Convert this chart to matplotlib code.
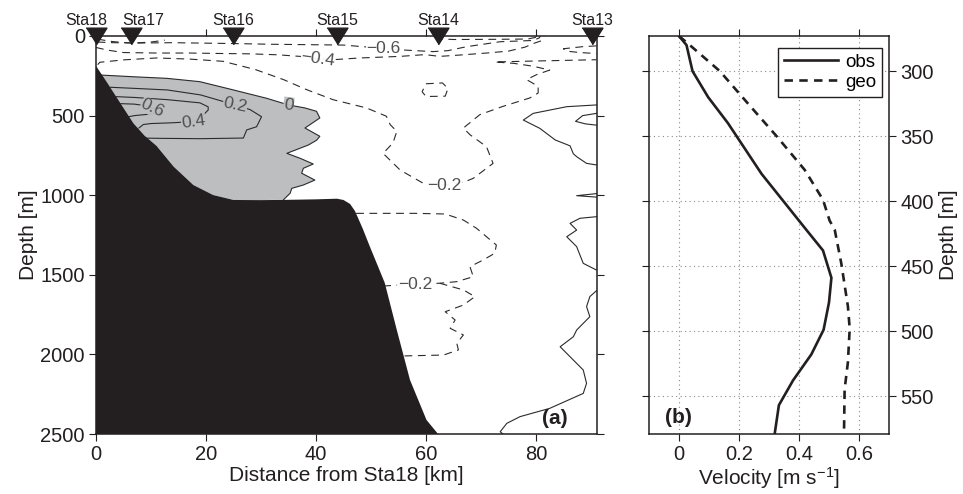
import matplotlib
matplotlib.use("Agg")
import matplotlib.pyplot as plt

plt.rcParams['font.family'] = ['Liberation Sans', 'DejaVu Sans']
plt.rcParams['mathtext.fontset'] = 'custom'
plt.rcParams['mathtext.rm'] = 'Liberation Sans'
plt.rcParams['mathtext.it'] = 'Liberation Sans:italic'

# ---------------- data: panel (a) ----------------
station_names = ["Sta18", "Sta17", "Sta16", "Sta15", "Sta14", "Sta13"]
station_dist = [0.0, 6.4, 25.0, 43.8, 62.2, 90.2]

bathy_dist = [0.0, 0.1, 2.5, 4.4, 6.8, 8.8, 11.0, 14.1, 17.7, 21.3, 25.0, 30.0, 35.0,
              40.0, 43.8, 45.0, 46.2, 47.1, 48.5, 49.8, 52.5, 54.7, 57.1, 60.1, 62.2]
bathy_depth = [193, 193, 318, 420, 548, 625, 690, 820, 936, 999, 1030, 1031, 1029,
               1026, 1022, 1030, 1055, 1100, 1210, 1323, 1550, 1847, 2161, 2412, 2500]

# 0 m/s contour bounding the shaded (positive) core
c00_dist = [0.7, 6.8, 12.9, 18.9, 25.0, 31.0, 35.0, 38.0, 40.1, 40.7, 38.0, 40.7, 40.1,
            38.6, 34.7, 37.1, 39.5, 37.7, 37.4, 39.8, 37.7, 35.6, 35.3, 34.1]
c00_depth = [245, 256, 266, 287, 339, 391, 433, 452, 473, 515, 578, 630, 655,
             685, 737, 768, 804, 831, 862, 905, 936, 957, 988, 1028]

c02_dist = [2.6, 7.0, 13.0, 19.0, 23.0, 25.3, 28.0, 30.1, 29.2, 27.4, 26.8, 19.0, 12.0, 8.0]
c02_depth = [322, 329, 339, 370, 410, 433, 462, 507, 570, 590, 641, 645, 643, 641]

c04_dist = [3.7, 7.0, 13.0, 18.9, 20.4, 20.4, 19.5, 18.6, 17.7, 14.0, 10.0, 8.6, 7.8]
c04_depth = [381, 386, 400, 420, 445, 465, 496, 522, 537, 545, 550, 556, 578]

c06_dist = [4.5, 7.0, 9.0, 10.3, 11.5, 11.8, 10.0, 7.0, 5.8]
c06_depth = [425, 428, 438, 453, 468, 480, 490, 500, 508]

# positive contours near Sta13 (0 m/s, solid)
p0a_dist = [91.0, 85.6, 79.5, 77.7, 80.7, 83.5, 86.2, 86.8, 87.4, 89.2, 91.0]
p0a_depth = [433, 444, 486, 528, 580, 653, 690, 740, 758, 800, 810]
p0b_dist = [91.0, 88.5, 87.2, 89.0, 91.0]
p0b_depth = [486, 500, 536, 552, 560]
p0c_dist = [91.0, 87.4, 91.0]
p0c_depth = [990, 1003, 1012]
p0d_dist = [91.0, 88.0, 86.2, 87.4, 85.6, 87.4, 88.0, 88.6, 91.0]
p0d_depth = [1135, 1145, 1177, 1219, 1261, 1323, 1376, 1428, 1470]
p0e_dist = [91.0, 89.8, 89.2, 89.8, 87.4, 86.8, 84.4, 86.5, 88.6, 89.2, 88.6, 82.5,
            77.1, 74.7, 73.5, 74.0]
p0e_depth = [1600, 1637, 1700, 1763, 1847, 1889, 1952, 2025, 2098, 2182, 2245, 2339,
             2391, 2433, 2486, 2500]

# negative contours (dashed)
n02a_dist = [0.3, 0.7, 5.0, 11.0, 17.0, 23.1, 29.0, 34.1, 38.3, 43.1, 49.2, 52.8, 53.5,
             54.7, 54.0, 52.2, 55.3, 59.5, 63.4, 67.1, 68.6, 72.2, 71.0, 68.0, 66.8,
             69.8, 74.0, 78.9, 80.4, 80.4, 78.3, 80.1, 82.5, 79.5, 76.0, 72.5, 80.0, 91.0]
n02a_depth = [180, 165, 150, 138, 145, 159, 211, 274, 337, 400, 452, 504, 557,
              599, 672, 737, 842, 925, 936, 915, 894, 800, 695, 620, 578,
              494, 442, 389, 358, 316, 274, 243, 214, 190, 172, 163, 157, 149]
n02b_dist = [47.3, 52.0, 58.0, 63.5, 66.8, 69.2, 72.8, 72.5, 70.4, 68.0, 68.6, 65.6,
             62.5, 58.0, 52.5]
n02b_depth = [1114, 1114, 1114, 1118, 1156, 1208, 1313, 1365, 1407, 1449, 1512, 1543,
              1553, 1558, 1570]
n02c_dist = [62.5, 66.8, 68.9, 66.8, 63.5, 65.3, 64.4, 66.8, 65.6, 65.9, 63.2, 55.5]
n02c_depth = [1553, 1595, 1637, 1690, 1732, 1784, 1836, 1878, 1930, 1972, 2004, 2010]
n02d_dist = [60.0, 63.0, 64.0, 63.5, 60.0, 59.3, 60.0]
n02d_depth = [300, 295, 330, 378, 380, 350, 300]

n04_dist = [0.0, 2.0, 5.0, 11.0, 17.0, 23.0, 28.0, 33.0, 37.1, 40.4, 43.5, 48.0, 55.3,
            59.8, 62.5, 66.0, 71.0, 75.0, 78.0, 79.8, 81.0, 81.5]
n04_depth = [72, 88, 104, 107, 107, 110, 112, 118, 128, 143, 148, 138, 128,
             117, 128, 120, 107, 95, 70, 44, 30, 0]
n04b_dist = [91.0, 88.5, 85.0, 85.5, 88.0, 91.0]
n04b_depth = [62, 67, 80, 95, 104, 110]

n06_dist = [0.3, 3.0, 8.0, 14.0, 20.0, 26.0, 32.0, 40.0, 45.0, 48.5, 52.2, 55.9, 61.3,
            64.0, 67.4, 73.5, 79.5, 80.6, 80.8]
n06_depth = [38, 42, 44, 42, 45, 48, 52, 55, 57, 67, 77, 88, 98,
             92, 67, 36, 28, 12, 0]
n08_dist = [61.8, 62.5, 65.0, 72.0, 78.5, 80.0]
n08_depth = [2, 18, 22, 21, 19, 8]
n08b_dist = [0.3, 3.0, 6.5, 10.0, 12.5]
n08b_depth = [20, 35, 45, 38, 26]

# contour labels: text, distance, depth, rotation
clab_text = ["0.6", "0.4", "0.2", "0", "\u22120.4", "\u22120.6", "\u22120.2", "\u22120.2"]
clab_dist = [10.3, 17.7, 25.3, 35.0, 40.4, 52.2, 63.4, 58.0]
clab_depth = [453, 537, 433, 433, 143, 77, 936, 1558]
clab_rot = [-25, 8, -12, -8, -8, 0, 0, 0]

# ---------------- data: panel (b) ----------------
obs_vel = [0.0, 0.025, 0.045, 0.097, 0.163, 0.275, 0.424, 0.48, 0.508, 0.50, 0.482,
           0.441, 0.38, 0.333, 0.319]
obs_depth = [273, 280, 300, 320, 340, 379, 422, 438, 459, 478, 499, 518, 538, 557, 579]
geo_vel = [0.0, 0.041, 0.136, 0.23, 0.325, 0.419, 0.48, 0.502, 0.519, 0.541, 0.563,
           0.569, 0.563, 0.552, 0.55]
geo_depth = [273, 281, 300, 325, 350, 376, 399, 415, 422, 448, 481, 498, 524, 545, 579]

# ---------------- styling ----------------
BLACK = '#231f20'
GRAY = '#bcbec0'
LINE = '#2b2b2b'
TICK_FS = 14.5
LAB_FS = 15

fig = plt.figure(figsize=(9.63, 4.94), dpi=100)
axL = fig.add_axes([96 / 963, 60 / 494, 501 / 963, 398 / 494])
axR = fig.add_axes([649 / 963, 60 / 494, 240 / 963, 398 / 494])

# shaded positive core: 0 contour closed back along the bathymetry
poly_x = list(c00_dist)
poly_y = list(c00_depth)
back = [(d, z) for d, z in zip(bathy_dist, bathy_depth)
        if z > c00_depth[0] and d < c00_dist[-1]]
for d, z in reversed(back):
    poly_x.append(d)
    poly_y.append(z)
axL.fill(poly_x, poly_y, color=GRAY, lw=0, zorder=1)

solid = [(c00_dist, c00_depth), (c02_dist, c02_depth), (c04_dist, c04_depth),
         (c06_dist, c06_depth), (p0a_dist, p0a_depth), (p0b_dist, p0b_depth),
         (p0c_dist, p0c_depth), (p0d_dist, p0d_depth), (p0e_dist, p0e_depth)]
for d, z in solid:
    axL.plot(d, z, color=LINE, lw=0.8, zorder=2)

dashed = [(n02a_dist, n02a_depth), (n02b_dist, n02b_depth), (n02c_dist, n02c_depth),
          (n02d_dist, n02d_depth), (n04_dist, n04_depth), (n04b_dist, n04b_depth),
          (n06_dist, n06_depth), (n08_dist, n08_depth), (n08b_dist, n08b_depth)]
for d, z in dashed:
    axL.plot(d, z, color=LINE, lw=0.8, dashes=(7, 5), zorder=2)

# bathymetry
bx = list(bathy_dist) + [bathy_dist[-1], 0.0]
by = list(bathy_depth) + [2500, 2500]
axL.fill(bx, by, color=BLACK, lw=0, zorder=3)

for t, d, z, r in zip(clab_text, clab_dist, clab_depth, clab_rot):
    bg = GRAY if not t.startswith('\u2212') else 'white'
    axL.text(d, z, t, rotation=r, ha='center', va='center', fontsize=12.5, color='#505050',
             zorder=4, bbox=dict(facecolor=bg, edgecolor='none', pad=0.3, alpha=0.95))

axL.set_xlim(0, 91.1)
axL.set_ylim(2500, 0)
axL.set_xticks([0, 20, 40, 60, 80])
axL.set_yticks([0, 500, 1000, 1500, 2000, 2500])
axL.tick_params(direction='out', top=True, right=True, labeltop=False, labelright=False,
                length=5, width=0.8, labelsize=TICK_FS, colors=BLACK, pad=3)
for s in axL.spines.values():
    s.set_color(BLACK)
    s.set_linewidth(1.1)
axL.set_xlabel('Distance from Sta18 [km]', fontsize=LAB_FS, labelpad=1, color=BLACK)
axL.set_ylabel('Depth [m]', fontsize=LAB_FS, labelpad=2, color=BLACK)

tri = [(-1, 0.8), (1, 0.8), (0, -0.8)]
axL.plot(station_dist, [0] * len(station_dist), linestyle='none', marker=tri, ms=15,
         color=BLACK, clip_on=False, zorder=10)
label_offsets = [-7, 9, 0, 0, 0, 0]
for name, d, off in zip(station_names, station_dist, label_offsets):
    axL.annotate(name, xy=(d, 1.0), xycoords=('data', 'axes fraction'),
                 xytext=(off, 11), textcoords='offset points', ha='center', va='center',
                 fontsize=11.5, color=BLACK, annotation_clip=False)
axL.text(0.916, 0.04, '(a)', transform=axL.transAxes, ha='center', va='center',
         fontsize=15, fontweight='bold', color=BLACK, zorder=5)

# ---------------- panel (b) ----------------
axR.plot(obs_vel, obs_depth, color=BLACK, lw=1.9, label='obs')
axR.plot(geo_vel, geo_depth, color=BLACK, lw=1.9, dashes=(3.2, 2.4), label='geo')
axR.set_xlim(-0.1, 0.7)
axR.set_ylim(579.2, 273)
axR.set_xticks([0, 0.2, 0.4, 0.6])
axR.set_xticklabels(['0', '0.2', '0.4', '0.6'])
axR.set_yticks([300, 350, 400, 450, 500, 550])
axR.grid(True, linestyle=(0, (1, 3)), color='#8a8a8a', lw=0.8)
axR.yaxis.set_label_position('right')
axR.tick_params(direction='out', top=True, right=True, left=True, labelleft=False,
                labelright=True, length=5, width=0.8, labelsize=TICK_FS, colors=BLACK, pad=3)
for s in axR.spines.values():
    s.set_color(BLACK)
    s.set_linewidth(1.1)
axR.set_xlabel('Velocity [m s$^{-1}$]', fontsize=LAB_FS, labelpad=1, color=BLACK)
axR.set_ylabel('Depth [m]', fontsize=LAB_FS, labelpad=4, color=BLACK)
leg = axR.legend(loc='upper right', bbox_to_anchor=(1 - 6.7 / 240, 1 - 12.3 / 398),
                 borderaxespad=0, handlelength=2.9, fontsize=13.5, fancybox=False,
                 edgecolor=BLACK, framealpha=1, borderpad=0.3, labelspacing=0.15,
                 handletextpad=0.4)
leg.get_frame().set_linewidth(1.0)
axR.text(0.122, 0.041, '(b)', transform=axR.transAxes, ha='center', va='center',
         fontsize=15, fontweight='bold', color=BLACK)

fig.savefig('out.png', dpi=100)
